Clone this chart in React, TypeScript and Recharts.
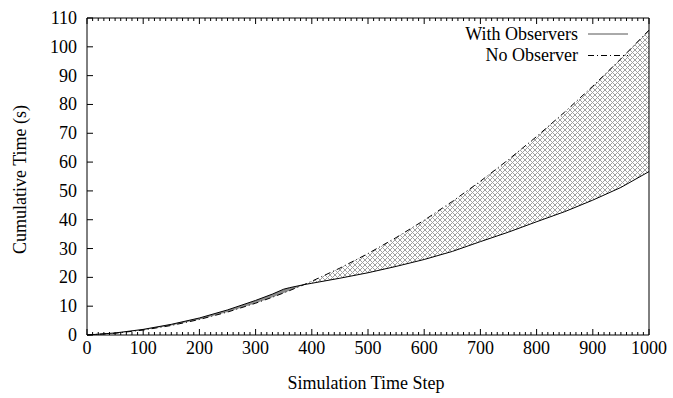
import React from 'react';
import { ComposedChart, Line, Area, XAxis, YAxis, Legend } from 'recharts';

const FONT = '"Liberation Serif", "Times New Roman", Times, serif';

// Simulation time steps (x)
const steps = [0, 50, 100, 150, 200, 250, 300, 330, 350, 360, 386, 400, 450, 500, 550, 600, 650, 700, 750, 800, 850, 900, 950, 1000];
// Cumulative time (s) with observers
const withObservers = [0, 0.7, 1.95, 3.7, 5.9, 8.7, 12.0, 14.2, 15.9, 16.4, 17.47, 17.95, 19.7, 21.6, 23.8, 26.2, 29.0, 32.4, 35.7, 39.3, 42.8, 46.8, 51.2, 56.7];
// Cumulative time (s) with no observer
const noObserver = [0, 0.61, 1.71, 3.3, 5.38, 7.96, 11.03, 13.11, 14.6, 15.37, 17.47, 18.66, 23.21, 28.25, 33.79, 39.82, 46.33, 53.35, 60.86, 68.86, 77.36, 86.35, 95.83, 105.8];

const seriesNames = ['With Observers', 'No Observer'];
const xMajorTicks = [0, 100, 200, 300, 400, 500, 600, 700, 800, 900, 1000];
const yTicks = [0, 10, 20, 30, 40, 50, 60, 70, 80, 90, 100, 110];
const xAllTicks: number[] = [];
xMajorTicks.forEach((t, i) => {
  if (i < xMajorTicks.length - 1) {
    for (let k = 0; k < 10; k++) xAllTicks.push(t + k * 10);
  } else xAllTicks.push(t);
});

const data = steps.map((s, i) => {
  const w = withObservers[i];
  const n = noObserver[i];
  return {
    step: s,
    withObs: w,
    noObs: n,
    hatch: n >= w ? [w, n] : [n, n],
    gray: w > n ? [n, w] : [w, w],
  };
});

const BottomTick = (props: any) => {
  const { x, y, payload } = props;
  const v = payload.value;
  const major = v % 100 === 0;
  return (
    <g>
      <line x1={x} x2={x} y1={y} y2={y - (major ? 6 : 3)} stroke="#000" strokeWidth={1} />
      {major && (
        <text x={x} y={y + 19} textAnchor="middle" fontFamily={FONT} fontSize={18} fill="#000">
          {v}
        </text>
      )}
    </g>
  );
};

const TopTick = (props: any) => {
  const { x, y, payload } = props;
  const v = payload.value;
  const major = v % 100 === 0;
  return <line x1={x} x2={x} y1={y} y2={y + (major ? 6 : 3)} stroke="#000" strokeWidth={1} />;
};

const LeftTick = (props: any) => {
  const { x, y, payload } = props;
  return (
    <g>
      <line x1={x} x2={x + 6} y1={y} y2={y} stroke="#000" strokeWidth={1} />
      <text x={x - 10} y={y + 6} textAnchor="end" fontFamily={FONT} fontSize={18} fill="#000">
        {payload.value}
      </text>
    </g>
  );
};

const XTitle = (props: any) => {
  const vb = props.viewBox || { x: 87, y: 335, width: 562, height: 63 };
  return (
    <text x={vb.x + vb.width / 2 - 2} y={vb.y + 54} textAnchor="middle" fontFamily={FONT} fontSize={18} fill="#000">
      Simulation Time Step
    </text>
  );
};

const YTitle = (props: any) => {
  const vb = props.viewBox || { x: 0, y: 18, width: 87, height: 317 };
  const cx = vb.x + 26;
  const cy = vb.y + vb.height / 2 + 3;
  return (
    <text x={cx} y={cy} transform={`rotate(-90 ${cx} ${cy})`} textAnchor="middle" fontFamily={FONT} fontSize={18} fill="#000">
      Cumulative Time (s)
    </text>
  );
};

const renderLegend = (props: any) => {
  const items = (props.payload || [])
    .filter((p: any) => seriesNames.indexOf(p.value) >= 0)
    .sort((a: any, b: any) => seriesNames.indexOf(a.value) - seriesNames.indexOf(b.value));
  return (
    <svg width={673} height={70} style={{ display: 'block' }}>
      {items.map((it: any, i: number) => (
        <g key={i}>
          <text x={578} y={39.5 + i * 21} textAnchor="end" fontFamily={FONT} fontSize={18} fill="#000">
            {it.value}
          </text>
          <line
            x1={588}
            x2={628}
            y1={i === 0 ? 34 : 55.5}
            y2={i === 0 ? 34 : 55.5}
            stroke={i === 0 ? '#555' : '#000'}
            strokeWidth={1}
            strokeDasharray={i === 0 ? undefined : '6 3 1 3'}
          />
        </g>
      ))}
    </svg>
  );
};

export default function App() {
  return (
    <div style={{ position: 'absolute', left: 0, top: 0, background: '#fff' }}>
      <ComposedChart width={673} height={398} data={data} margin={{ top: 17, right: 23, bottom: 0, left: 0 }}>
        <defs>
          <pattern id="hatch" patternUnits="userSpaceOnUse" width={5} height={5}>
            <rect width={5} height={5} fill="#fff" />
            <path d="M0,0 L5,5 M5,0 L0,5" stroke="#a0a0a0" strokeWidth={1} />
          </pattern>
        </defs>
        <XAxis
          xAxisId="b"
          dataKey="step"
          type="number"
          domain={[0, 1000]}
          ticks={xAllTicks}
          interval={0}
          tickSize={0}
          tickMargin={0}
          tickLine={false}
          tick={BottomTick}
          height={63}
          axisLine={{ stroke: '#000' }}
          label={{ content: XTitle }}
        />
        <XAxis
          xAxisId="t"
          orientation="top"
          dataKey="step"
          type="number"
          domain={[0, 1000]}
          ticks={xAllTicks}
          interval={0}
          tickSize={0}
          tickMargin={0}
          tickLine={false}
          tick={TopTick}
          height={1}
          axisLine={{ stroke: '#000' }}
        />
        <YAxis
          yAxisId="l"
          type="number"
          domain={[0, 110]}
          ticks={yTicks}
          interval={0}
          tickSize={0}
          tickMargin={0}
          tickLine={false}
          tick={LeftTick}
          width={87}
          axisLine={{ stroke: '#000' }}
          label={{ content: YTitle }}
        />
        <YAxis
          yAxisId="r"
          orientation="right"
          type="number"
          domain={[0, 110]}
          width={1}
          tick={false}
          tickLine={false}
          axisLine={{ stroke: '#000' }}
        />
        <Legend
          layout="horizontal"
          verticalAlign="middle"
          align="center"
          content={renderLegend}
          wrapperStyle={{ position: 'absolute', top: 0, left: 0, width: 673, height: 70 }}
        />
        <Area
          xAxisId="b"
          yAxisId="l"
          dataKey="hatch"
          type="linear"
          stroke="none"
          fill="url(#hatch)"
          fillOpacity={1}
          legendType="none"
          isAnimationActive={false}
          activeDot={false}
        />
        <Area
          xAxisId="b"
          yAxisId="l"
          dataKey="gray"
          type="linear"
          stroke="none"
          fill="#8c8c8c"
          fillOpacity={1}
          legendType="none"
          isAnimationActive={false}
          activeDot={false}
        />
        <Line
          xAxisId="b"
          yAxisId="l"
          dataKey="withObs"
          name="With Observers"
          type="linear"
          stroke="#000"
          strokeWidth={1}
          dot={false}
          activeDot={false}
          isAnimationActive={false}
        />
        <Line
          xAxisId="b"
          yAxisId="l"
          dataKey="noObs"
          name="No Observer"
          type="linear"
          stroke="#000"
          strokeWidth={1}
          strokeDasharray="6 3 1 3"
          dot={false}
          activeDot={false}
          isAnimationActive={false}
        />
        <Line
          xAxisId="t"
          yAxisId="r"
          dataKey="noObs"
          name="frame"
          stroke="none"
          dot={false}
          activeDot={false}
          legendType="none"
          isAnimationActive={false}
        />
      </ComposedChart>
    </div>
  );
}
